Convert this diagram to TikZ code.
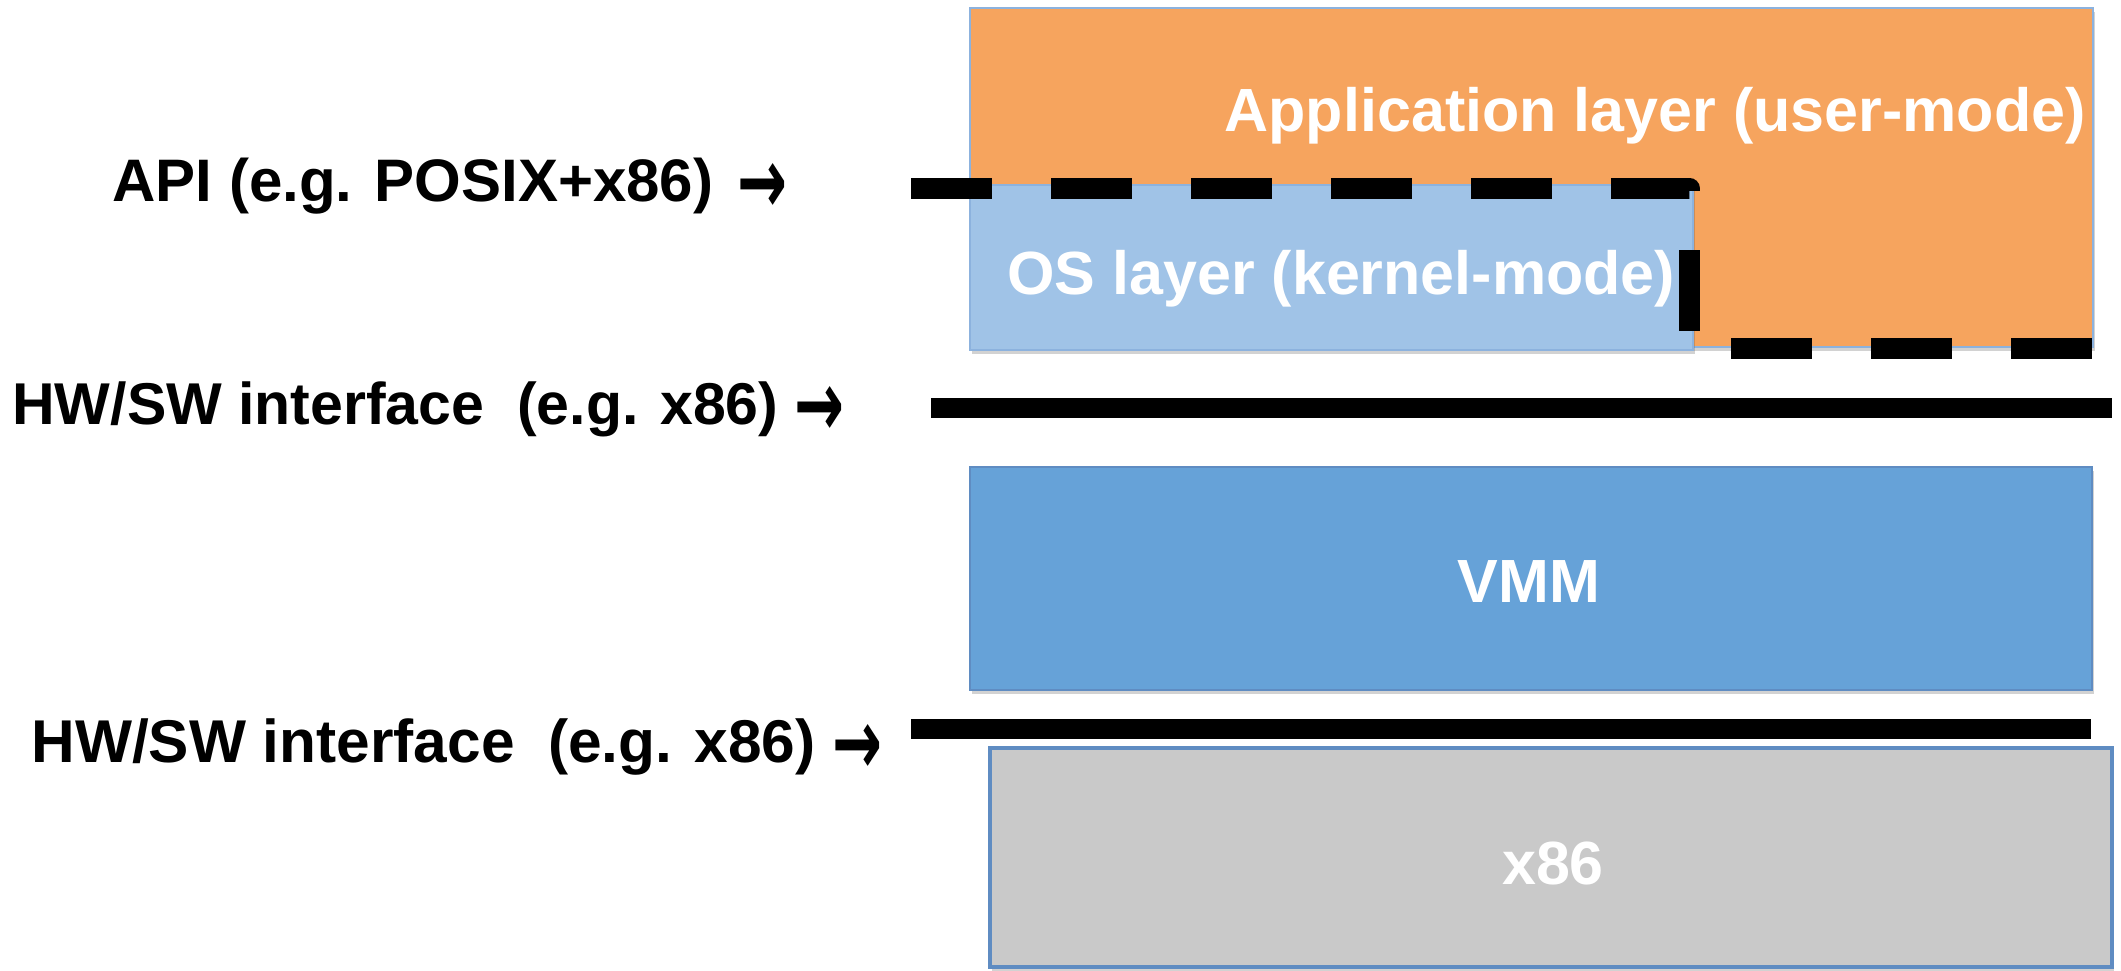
\documentclass[tikz,border=0pt]{standalone}
\usepackage{fontspec}
\usepackage{graphicx}
\setmainfont{Liberation Sans}
\newfontfamily\arrowfont{DejaVu Sans}
\usetikzlibrary{shadows}
\definecolor{appfill}{RGB}{246,164,94}
\definecolor{osfill}{RGB}{160,195,231}
\definecolor{vmmfill}{RGB}{102,162,216}
\definecolor{hwfill}{RGB}{201,201,201}
\definecolor{edgeblue}{RGB}{95,140,194}
\definecolor{edgelight}{RGB}{140,178,222}
% a tall arrow glyph, as the labels use it
\newcommand{\pointsto}{\raisebox{-6pt}{\resizebox{25pt}{25pt}{\arrowfont →}}}
\begin{document}
\begin{tikzpicture}[x=0.5pt,y=-0.5pt,
  boxshadow/.style={drop shadow={shadow xshift=0.8pt,shadow yshift=-2pt,opacity=0.25,fill=black!70}},
  layerbox/.style={draw=edgeblue,line width=1pt,boxshadow},
  boxtext/.style={text=white,inner sep=0pt,font=\bfseries\fontsize{30.5}{36}\selectfont},
  sidelabel/.style={text=black,inner sep=0pt,font=\bfseries\fontsize{29.5}{35}\selectfont},
  iface/.style={line width=10pt,line cap=butt},
  ifaceshadow/.style={line width=10pt,line cap=butt,draw=black,opacity=0.18},
  apiline/.style={line width=10.5pt,line cap=butt,line join=round,dash pattern=on 40.5pt off 29.5pt}]
\useasboundingbox (0,0) rectangle (2121,970);

% corner coordinates of the layers
\coordinate (appNW) at (970,8);    \coordinate (appSE) at (2093,347);
\coordinate (osNW)  at (970,185);  \coordinate (osSE)  at (1693,350);
\coordinate (vmmNW) at (970,467);  \coordinate (vmmSE) at (2092,690);
\coordinate (hwNW)  at (990,748);  \coordinate (hwSE)  at (2112,967);

% application layer and OS layer
\path[layerbox,draw=edgelight,fill=appfill] (appNW) rectangle (appSE);
\path[layerbox,draw=edgelight,fill=osfill] (osNW) rectangle (osSE);

% API boundary (dashed)
\coordinate (apiA) at (911,188);
\coordinate (apiB) at (1689,188);
\coordinate (apiC) at (1689,348);
\coordinate (apiD) at (2093,348);
\draw[apiline,draw=black,opacity=0.15,shift={(1.5,4)}] (apiA) -- (apiB) -- (apiC) -- (apiD);
\draw[apiline] (apiA) -- (apiB) -- (apiC) -- (apiD);

% upper HW/SW interface
\coordinate (ifaA1) at (931,408);
\coordinate (ifaA2) at (2112,408);
\draw[ifaceshadow,shift={(1.5,4)}] (ifaA1) -- (ifaA2);
\draw[iface] (ifaA1) -- (ifaA2);

% VMM layer
\path[layerbox,fill=vmmfill] (vmmNW) rectangle (vmmSE);

% lower HW/SW interface
\coordinate (ifaB1) at (911,729);
\coordinate (ifaB2) at (2091,729);
\draw[ifaceshadow,shift={(1.5,4)}] (ifaB1) -- (ifaB2);
\draw[iface] (ifaB1) -- (ifaB2);

% hardware layer
\path[layerbox,line width=2pt,fill=hwfill] (hwNW) rectangle (hwSE);

% layer names
\node[boxtext,anchor=base east] (appText) at (2086,131) {Application layer (user-mode)};
\node[boxtext,anchor=base west] (osText) at (1007,294) {OS layer (kernel-mode)};
\node[boxtext,anchor=base] (vmmText) at (1529,602) {VMM};
\node[boxtext,anchor=base] (hwText) at (1553,884) {x86};

% interface labels
\node[sidelabel,font=\bfseries\fontsize{30}{35}\selectfont,anchor=base west] (apiLabel) at (112,201) {API (e.g. POSIX+x86)\hspace{4pt} \pointsto};
\node[sidelabel,anchor=base west] (ifaLabelA) at (12,424) {HW/SW interface~~(e.g. x86) \pointsto};
\node[sidelabel,font=\bfseries\fontsize{30.2}{35}\selectfont,anchor=base west] (ifaLabelB) at (31,762) {HW/SW interface~~(e.g. x86) \pointsto};
\end{tikzpicture}
\end{document}
